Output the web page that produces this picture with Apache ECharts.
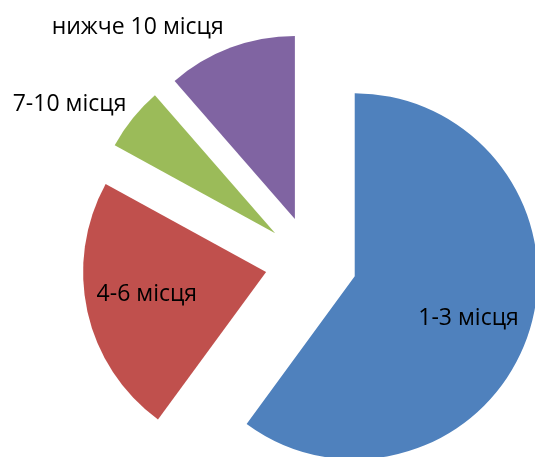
<!DOCTYPE html>
<html><head><meta charset="utf-8">
<script src="https://cdn.jsdelivr.net/npm/echarts@6/dist/echarts.min.js"></script>
<style>html,body{margin:0;padding:0;background:#fff}#c{width:535px;height:457px}</style>
</head><body><div id="c"></div>
<script>
const categories = ['1-3 місця', '4-6 місця', '7-10 місця', 'нижче 10 місця'];
const values = [60, 22.9, 5.6, 11.4];
const colors = ['#4F81BD', '#C0504D', '#9BBB59', '#8064A2'];
const labelShift = [[24, 13], [-27, 2], [-132, -69], [-124, -103]];

const chart = echarts.init(document.getElementById('c'), null, {renderer: 'canvas'});
chart.setOption({
  animation: false,
  backgroundColor: '#fff',
  series: [{
    type: 'pie',
    center: [311, 262],
    radius: 183,
    startAngle: 90,
    clockwise: true,
    selectedMode: 'multiple',
    selectedOffset: 46,
    avoidLabelOverlap: false,
    itemStyle: {borderWidth: 0},
    label: {
      show: true, position: 'inside', color: '#000',
      fontFamily: 'Open Sans', fontSize: 23, formatter: '{b}'
    },
    labelLine: {show: false},
    labelLayout: p => ({dx: labelShift[p.dataIndex][0], dy: labelShift[p.dataIndex][1]}),
    emphasis: {disabled: true},
    select: {itemStyle: {borderWidth: 0}, label: {color: '#000'}},
    data: categories.map((n, i) => ({
      name: n, value: values[i], selected: true, itemStyle: {color: colors[i]}
    }))
  }]
});
</script></body></html>
